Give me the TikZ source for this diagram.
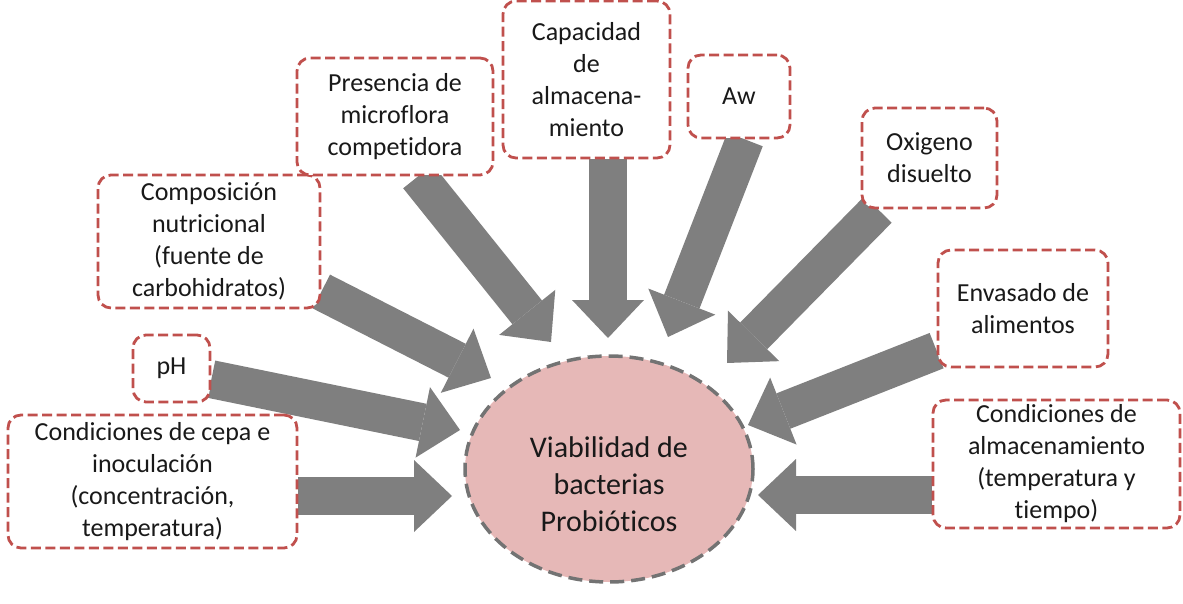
\documentclass[tikz,border=0pt]{standalone}
\usepackage{fontspec}
\setmainfont{Carlito}[Ligatures=CommonOff]
\usetikzlibrary{arrows.meta,backgrounds,calc,shapes.geometric}
\definecolor{boxred}{RGB}{192,80,77}
\definecolor{arrgray}{RGB}{127,127,127}
\definecolor{viapink}{RGB}{230,184,183}
\definecolor{viagray}{RGB}{115,115,115}

\begin{document}
\begin{tikzpicture}[x=1pt,y=-1pt,line join=round,
	factor/.style={draw=boxred,fill=white,line width=2.8pt,dash pattern=on 10pt off 4.5pt,
		rounded corners=13pt,align=center,inner sep=0pt,text=black!90,font=\fontsize{26}{32}\selectfont},
	core/.style={ellipse,draw=viagray,fill=viapink,line width=3.5pt,dash pattern=on 14pt off 7pt},
	push/.style={draw=arrgray,line width=38pt,-{Triangle[width=72pt,length=38pt,line width=0pt]}}]
	\useasboundingbox (0,0) rectangle (1183,604);
	% factores
	\path
	(152.5,481.5) node[factor,minimum width=289pt,minimum height=133pt] (cepa) {Condiciones de cepa e\\inoculación\\(concentración,\\temperatura)}
	(171.5,368.5) node[factor,minimum width=77pt,minimum height=67pt] (ph) {pH}
	(209,241.5) node[factor,minimum width=222pt,minimum height=133pt] (comp) {Composición\\nutricional\\(fuente de\\carbohidratos)}
	(395,116.5) node[factor,minimum width=196pt,minimum height=117pt] (pres) {Presencia de\\microflora\\competidora}
	(586.5,79.5) node[factor,minimum width=167pt,minimum height=157pt] (cap) {Capacidad\\de\\almacena-\\miento}
	(739,96.5) node[factor,minimum width=102pt,minimum height=83pt] (aw) {Aw}
	(929.5,158) node[factor,minimum width=135pt,minimum height=100pt] (oxi) {Oxigeno\\disuelto}
	(1023,308.5) node[factor,minimum width=170pt,minimum height=117pt] (env) {Envasado de\\alimentos}
	(1056.5,464) node[factor,minimum width=247pt,minimum height=128pt] (alm) {Condiciones de\\almacenamiento\\(temperatura y\\tiempo)}
	;
	% centro
	\node[core,minimum width=288pt,minimum height=226pt] (via) at (609,469) {};
	\node[align=center,text=black!90,font=\fontsize{30}{37}\selectfont] (viatext) at ($(via.center)+(0,15)$) {Viabilidad de\\bacterias\\Probióticos};
	% puntas
	\coordinate (tcepa) at (452,496);
	\coordinate (tph) at (460,430);
	\coordinate (tcomp) at (491,378);
	\coordinate (tpres) at (551,342);
	\coordinate (tcap) at (608,338);
	\coordinate (taw) at (668,337);
	\coordinate (toxi) at (727,363);
	\coordinate (tenv) at (748,425);
	\coordinate (talm) at (758,495);
	\begin{scope}[on background layer]
		\draw[push] (cepa.east |- tcepa) -- (tcepa);
		\draw[push] (ph.-15) -- (tph);
		\draw[push] (comp.-24) -- (tcomp);
		\draw[push] (pres.-69) -- (tpres);
		\draw[push] (cap.south -| tcap) -- (tcap);
		\draw[push] (aw.-82) -- (taw);
		\draw[push] (oxi.-135) -- (toxi);
		\draw[push] (env.-154) -- (tenv);
		\draw[push] (alm.west |- talm) -- (talm);
	\end{scope}
\end{tikzpicture}
\end{document}
